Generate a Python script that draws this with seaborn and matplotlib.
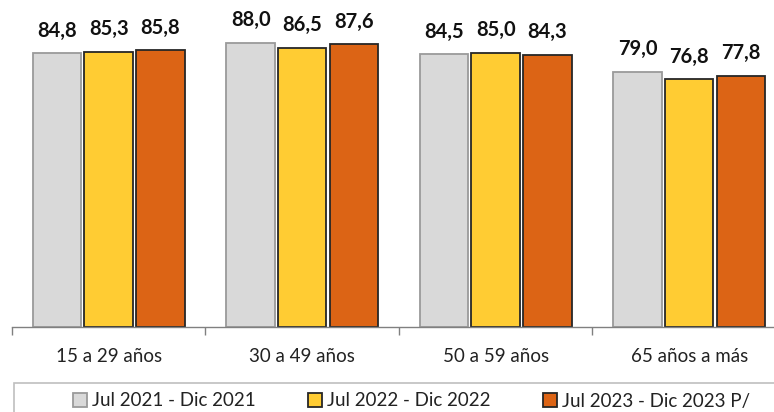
import pandas as pd
import matplotlib
matplotlib.use("Agg")
import matplotlib.pyplot as plt
from matplotlib.patches import Rectangle, Patch
import seaborn as sns

# Data
categorias = ["15 a 29 años", "30 a 49 años", "50 a 59 años", "65 años a más"]
periodos = ["Jul 2021 - Dic 2021", "Jul 2022 - Dic 2022", "Jul 2023 - Dic 2023 P/"]
val_2021 = [84.8, 88.0, 84.5, 79.0]
val_2022 = [85.3, 86.5, 85.0, 76.8]
val_2023 = [85.8, 87.6, 84.3, 77.8]

colores = ["#D9D9D9", "#FFCC33", "#DC6415"]
bordes = ["#9A9A9A", "#262626", "#262626"]

df = pd.DataFrame({
    "grupo": categorias * 3,
    "periodo": [periodos[0]] * 4 + [periodos[1]] * 4 + [periodos[2]] * 4,
    "valor": val_2021 + val_2022 + val_2023,
})

sns.set_style("white")
plt.rcParams["font.family"] = ["Lato", "DejaVu Sans"]

fig = plt.figure(figsize=(7.74, 4.12), dpi=100)
ax = fig.add_axes([0.0155, 0.206, 1.0, 0.784])

sns.barplot(data=df, x="grupo", y="valor", hue="periodo", hue_order=periodos,
            palette=colores, saturation=1, width=0.8, gap=0.06, legend=False, ax=ax)

for cont, borde in zip(ax.containers, bordes):
    for barra in cont:
        barra.set_edgecolor(borde)
        barra.set_linewidth(1.3)
    ax.bar_label(cont, labels=[f"{v:.1f}".replace(".", ",") for v in cont.datavalues],
                 padding=9, fontsize=14.5, fontweight="bold", color="#111111")

ax.set_ylim(0, 100)
ax.set_xlim(-0.5, 3.5)
ax.set_xlabel("")
ax.set_ylabel("")
ax.set_yticks([])
ax.set_xticks([-0.5, 0.5, 1.5, 2.5, 3.5])
ax.set_xticklabels([])
ax.set_xticks(range(4), minor=True)
ax.set_xticklabels(categorias, minor=True, fontsize=13.5, color="#222222")
ax.tick_params(axis="x", which="major", direction="out", length=6, width=1, color="#808080", bottom=True)
ax.tick_params(axis="x", which="minor", length=0, pad=15)
for lado in ["top", "left", "right"]:
    ax.spines[lado].set_visible(False)
ax.spines["bottom"].set_color("#808080")
ax.spines["bottom"].set_linewidth(1)

# legend with frame running off the figure
fig.patches.append(Rectangle((14 / 774, -0.1), 1.0, 1 - 383 / 412 + 0.1,
                             transform=fig.transFigure, fill=False,
                             edgecolor="#BFBFBF", linewidth=1.2))
handles = [Patch(facecolor=c, edgecolor=b, linewidth=1.3) for c, b in zip(colores, bordes)]
fig.legend(handles, periodos, loc="center left", bbox_to_anchor=(64 / 774, 1 - 401 / 412),
           ncol=3, frameon=False, fontsize=13.5, handlelength=0.75, handleheight=0.75,
           handletextpad=0.25, columnspacing=2.8, borderpad=0, labelcolor="#222222")

fig.savefig("out.png", dpi=100)
